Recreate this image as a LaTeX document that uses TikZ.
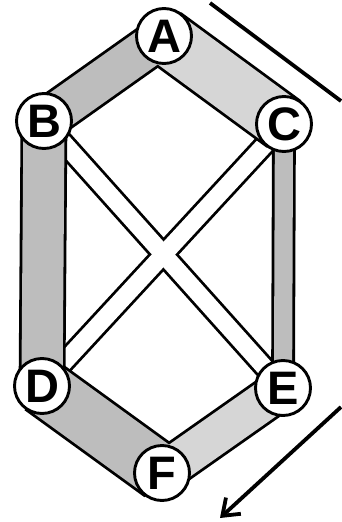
\documentclass[tikz,border=0pt]{standalone}
\usepackage{fontspec}
\setmainfont{Liberation Sans}
\usetikzlibrary{arrows.meta}
\pgfdeclarelayer{bg}
\pgfsetlayers{bg,main}
\tikzset{
  vtx/.style={circle,draw=black,line width=2.9pt,fill=white,minimum size=55pt,inner sep=0pt,
    font=\fontsize{47}{47}\selectfont\bfseries},
  bandout/.style={draw=black,line width=#1+2.8pt,line cap=butt},
  bandin/.style={draw=white,line width=#1-2.8pt,line cap=butt},
  bandgray/.style={draw=black!26,line width=#1-2.8pt,line cap=butt},
  bandlight/.style={draw=black!16,line width=#1-2.8pt,line cap=butt},
  flow/.style={draw=black,line width=3.8pt}
}
\begin{document}
\begin{tikzpicture}[x=1pt,y=-1pt]
\useasboundingbox (0,0) rectangle (341,522);
\node[vtx] (A) at (164,36) {A};
\node[vtx] (B) at (44,121) {B};
\node[vtx] (C) at (284,124) {C};
\node[vtx] (D) at (42,386) {D};
\node[vtx] (E) at (283,388) {E};
\node[vtx] (F) at (162,473) {F};
\begin{pgfonlayer}{bg}
  % diagonal white bands
  \draw[bandout=20pt] (B.center) -- (E.center);
  \draw[bandout=20pt] (C.center) -- (D.center);
  \draw[bandin=20pt] (B.center) -- (E.center);
  \draw[bandin=20pt] (C.center) -- (D.center);
  % perimeter shaded bands
  \draw[bandout=42pt] (A.center) -- (B.center);
  \draw[bandout=56pt] (A.center) -- (C.center);
  \draw[bandout=44pt] (B.center) -- (D.center);
  \draw[bandout=21pt] (C.center) -- (E.center);
  \draw[bandout=57pt] (D.center) -- (F.center);
  \draw[bandout=41pt] (E.center) -- (F.center);
  \draw[bandgray=42pt] (A.center) -- (B.center);
  \draw[bandlight=56pt] (A.center) -- (C.center);
  \draw[bandgray=44pt] (B.center) -- (D.center);
  \draw[bandgray=21pt] (C.center) -- (E.center);
  \draw[bandgray=57pt] (D.center) -- (F.center);
  \draw[bandlight=41pt] (E.center) -- (F.center);
\end{pgfonlayer}
\coordinate (t1) at (210,3);
\coordinate (t2) at (341,101);
\coordinate (b1) at (341,407);
\coordinate (b2) at (220,518);
\draw[flow] (t1) -- (t2);
\draw[flow,-{Straight Barb[length=15pt,width=22pt]}] (b1) -- (b2);
\end{tikzpicture}
\end{document}
